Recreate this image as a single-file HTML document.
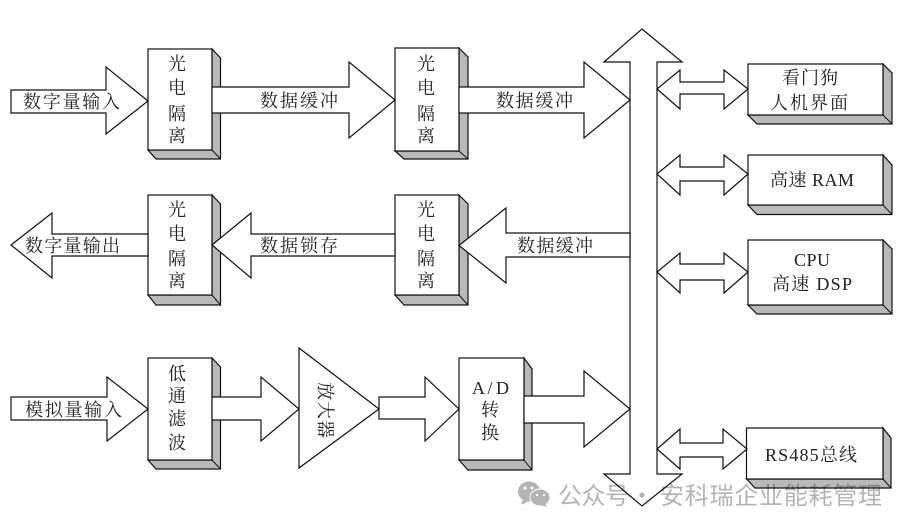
<!DOCTYPE html>
<html lang="zh"><head><meta charset="utf-8"><style>
html,body{margin:0;padding:0;background:#fff}
svg{display:block;filter:blur(.3px)}
.s{font-family:"Liberation Serif","Noto Serif CJK SC",serif;font-size:18px;fill:#222;text-anchor:middle}
.l{font-family:"Liberation Serif","Noto Serif CJK SC",serif;font-size:18px;fill:#222}
.a{fill:#fff;stroke:#111;stroke-width:1.2;stroke-linejoin:miter}
.d{fill:#b9b9b9;stroke:#111;stroke-width:1.2}
.w{font-family:"Noto Sans CJK SC",sans-serif;font-size:24px;fill:#b4b4b4;mix-blend-mode:multiply}
</style></head><body>
<svg width="910" height="529" viewBox="0 0 910 529" xmlns="http://www.w3.org/2000/svg">
<rect width="910" height="529" fill="#fff"/>
<!-- boxes -->
<g>
<polygon class="d" points="212,49 220.5,58 220.5,159 156,159 148,150 212,150"/><rect class="a" x="148" y="49" width="64" height="101"/><line x1="212" y1="150" x2="220.5" y2="159" stroke="#111"/>
<polygon class="d" points="459,48 468,57 468,159 404,159 395,151 459,151"/><rect class="a" x="395" y="48" width="64" height="103"/><line x1="459" y1="151" x2="468" y2="159" stroke="#111"/>
<polygon class="d" points="212,195 220.5,204 220.5,305 156,305 148,295 212,295"/><rect class="a" x="148" y="195" width="64" height="100"/><line x1="212" y1="295" x2="220.5" y2="305" stroke="#111"/>
<polygon class="d" points="459,195 468,204 468,305 404,305 395,295 459,295"/><rect class="a" x="395" y="195" width="64" height="100"/><line x1="459" y1="295" x2="468" y2="305" stroke="#111"/>
<polygon class="d" points="212,358 220.5,367 220.5,469 156,469 148,460 212,460"/><rect class="a" x="148" y="358" width="64" height="102"/><line x1="212" y1="460" x2="220.5" y2="469" stroke="#111"/>
<polygon class="d" points="524,358 532,369 532,470 468,470 459,460 524,460"/><rect class="a" x="459" y="358" width="65" height="102"/><line x1="524" y1="460" x2="532" y2="470" stroke="#111"/>
<polygon class="d" points="883,64 892,73 892,124 757,124 748,115 883,115"/><rect class="a" x="748" y="64" width="135" height="51"/><line x1="883" y1="115" x2="892" y2="124" stroke="#111"/>
<polygon class="d" points="883,155 892,165 892,214.500 757,214.500 748,205 883,205"/><rect class="a" x="748" y="155" width="135" height="50"/><line x1="883" y1="205" x2="892" y2="214.500" stroke="#111"/>
<polygon class="d" points="883,240 892,249 892,314 757,314 748,305 883,305"/><rect class="a" x="748" y="240" width="135" height="65"/><line x1="883" y1="305" x2="892" y2="314" stroke="#111"/>
<polygon class="d" points="883,428 891,438 891,488 755,488 746.500,479 883,479"/><rect class="a" x="746.500" y="428" width="136.500" height="51"/><line x1="883" y1="479" x2="891" y2="488" stroke="#111"/>
</g>
<!-- bus -->
<polygon class="a" points="642,29 682,62 657,62 657,474 682,474 642,506 604,474 630,474 630,62 604,62"/>
<!-- row 1 arrows -->
<polygon class="a" points="11,90 106,90 106,67 148,101 106,134 106,113 11,113"/>
<polygon class="a" points="212,87 349,87 349,62 395,100 349,138 349,113 212,113"/>
<polygon class="a" points="459,87 584,87 584,62 630,100 584,138 584,113 459,113"/>
<!-- row 2 arrows -->
<polygon class="a" points="11,245 52,213 52,234 148,234 148,256 52,256 52,278"/>
<polygon class="a" points="212,245 251,213 251,234 395,234 395,256 251,256 251,278"/>
<polygon class="a" points="459,245.500 506,208 506,233 630,233 630,257 506,257 506,283"/>
<!-- row 3 arrows -->
<polygon class="a" points="11,397 107,397 107,377 148,409 107,441 107,420 11,420"/>
<polygon class="a" points="212,397 261,397 261,377 299,409 261,441 261,420 212,420"/>
<polygon class="a" points="299,348 379,409 299,468"/>
<polygon class="a" points="379,397 425,397 425,377 459,409 425,441 425,419 379,419"/>
<polygon class="a" points="524,396 584,396 584,371 630,409 584,447 584,423 524,423"/>
<!-- double arrows -->
<polygon class="a" points="657,89 680,70 680,82 724,82 724,70 748,89 724,109 724,94 680,94 680,109"/>
<polygon class="a" points="657,174 680,155 680,167 724,167 724,155 748,174 724,195 724,181 680,181 680,195"/>
<polygon class="a" points="657,272 680,253 680,264 724,264 724,253 748,272 724,293 724,280 680,280 680,293"/>
<polygon class="a" points="657,449 680,429 680,443 723,443 723,429 747,449 723,469 723,457 680,457 680,469"/>
<!-- labels -->
<g transform="translate(0,1)">
<text class="l" x="23" y="107" textLength="97">数字量输入</text>
<text class="l" x="260" y="106" textLength="78">数据缓冲</text>
<text class="l" x="496" y="106" textLength="77">数据缓冲</text>
<text class="l" x="25" y="251" textLength="95">数字量输出</text>
<text class="l" x="260" y="251" textLength="78">数据锁存</text>
<text class="l" x="517" y="251" textLength="76">数据缓冲</text>
<text class="l" x="25" y="415" textLength="97">模拟量输入</text>
<text class="s" x="177" y="69">光</text><text class="s" x="177" y="93">电</text><text class="s" x="177" y="119">隔</text><text class="s" x="177" y="141">离</text>
<text class="s" x="426" y="69">光</text><text class="s" x="426" y="93">电</text><text class="s" x="426" y="119">隔</text><text class="s" x="426" y="141">离</text>
<text class="s" x="177" y="215">光</text><text class="s" x="177" y="239">电</text><text class="s" x="177" y="264">隔</text><text class="s" x="177" y="286">离</text>
<text class="s" x="426" y="215">光</text><text class="s" x="426" y="239">电</text><text class="s" x="426" y="264">隔</text><text class="s" x="426" y="286">离</text>
<text class="s" x="177" y="379">低</text><text class="s" x="177" y="401">通</text><text class="s" x="177" y="424">滤</text><text class="s" x="177" y="448">波</text>
<text class="l" x="472" y="393" textLength="37">A / D</text>
<text class="s" x="490" y="415">转</text><text class="s" x="490" y="438">换</text>
<text class="l" x="782" y="83" textLength="56">看门狗</text>
<text class="l" x="770" y="108" textLength="78">人机界面</text>
<text class="l" x="770" y="185" textLength="84">高速 RAM</text>
<text class="l" x="794" y="265" textLength="36">CPU</text>
<text class="l" x="772" y="289" textLength="80">高速 DSP</text>
<text class="l" x="765" y="460" textLength="92">RS485总线</text>
</g>
<!-- amplifier -->
<text class="l" transform="translate(319,382) rotate(90)" textLength="56">放大器</text>
<!-- watermark -->
<g fill="#b4b4b4">
<ellipse cx="529" cy="491.500" rx="11" ry="10"/>
<polygon points="523,499 521,505 529,501"/>
<ellipse cx="540" cy="497.500" rx="10" ry="8.500" stroke="#fff" stroke-width="1"/>
<polygon points="545,503 547,507 540,505"/>
<circle cx="525" cy="488" r="1.500" fill="#fff"/><circle cx="532" cy="488" r="1.500" fill="#fff"/>
<circle cx="537" cy="495" r="1.200" fill="#fff"/><circle cx="544" cy="495" r="1.200" fill="#fff"/>
</g>
<text class="w" x="558" y="504" textLength="71">公众号</text>
<text class="w" x="642" y="504" text-anchor="middle">·</text>
<text class="w" x="660" y="504" textLength="222">安科瑞企业能耗管理</text>
</svg>
</body></html>
